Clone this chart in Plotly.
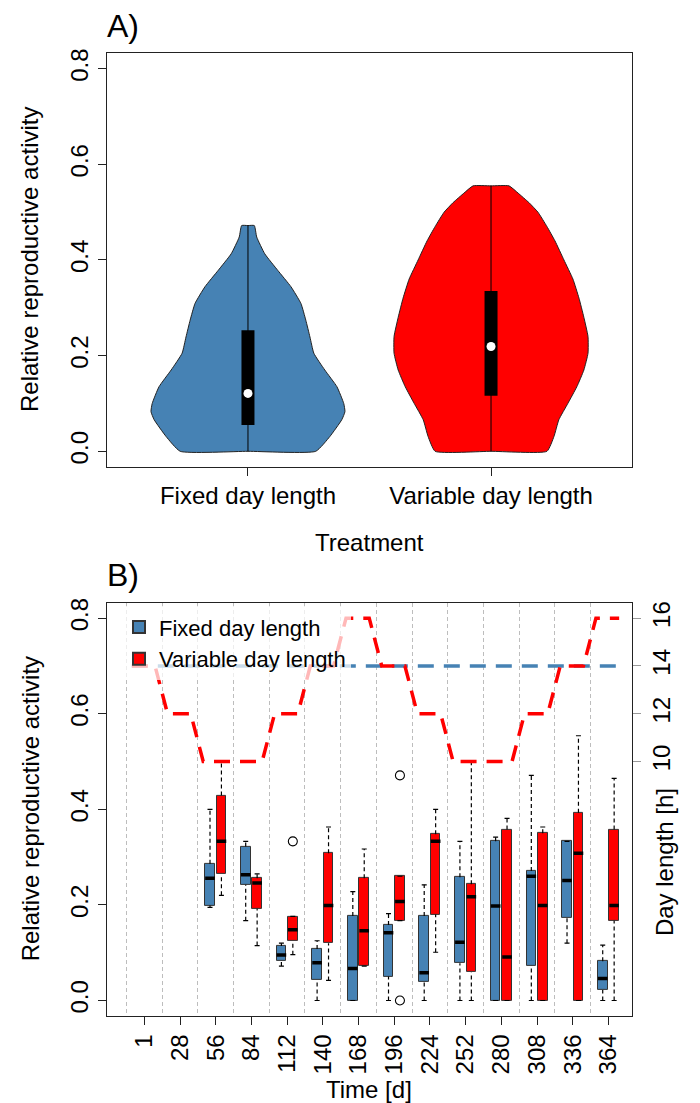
import plotly.graph_objects as go

W, H = 700, 1103
FONT = "Liberation Sans, Arial, sans-serif"

# ---------------- Panel A data ----------------
treatments = ["Fixed day length", "Variable day length"]
fixed_violin_y = [0.0, 0.031, 0.066, 0.083, 0.100, 0.135, 0.170, 0.205, 0.239, 0.274,
                  0.309, 0.344, 0.378, 0.413, 0.448, 0.472]
fixed_violin_hw = [0.279, 0.337, 0.386, 0.399, 0.394, 0.366, 0.316, 0.271, 0.255, 0.238,
                   0.218, 0.177, 0.123, 0.069, 0.036, 0.026]
var_violin_y = [0.0, 0.031, 0.066, 0.10, 0.135, 0.17, 0.205, 0.24, 0.28, 0.32, 0.36,
                0.40, 0.44, 0.47, 0.50, 0.52, 0.54, 0.555]
var_violin_hw = [0.230, 0.259, 0.279, 0.316, 0.353, 0.382, 0.399, 0.399, 0.382, 0.362,
                 0.337, 0.300, 0.263, 0.230, 0.193, 0.156, 0.111, 0.074]
violin_q1 = [0.055, 0.116]
violin_med = [0.121, 0.219]
violin_q3 = [0.253, 0.335]
violin_min = [0.0, 0.0]
violin_max = [0.472, 0.555]

# ---------------- Panel B data ----------------
time_labels = ["1", "28", "56", "84", "112", "140", "168", "196", "224", "252",
               "280", "308", "336", "364"]
fixed_lo = [None, None, 0.195, 0.167, 0.072, 0.0, 0.0, 0.0, 0.0, 0.0, 0.0, 0.0, 0.120, 0.0]
fixed_q1 = [None, None, 0.199, 0.242, 0.083, 0.043, 0.0, 0.050, 0.038, 0.078, 0.0, 0.072, 0.172, 0.022]
fixed_med = [None, None, 0.256, 0.263, 0.095, 0.079, 0.067, 0.142, 0.058, 0.122, 0.198, 0.260, 0.251, 0.046]
fixed_q3 = [None, None, 0.286, 0.322, 0.114, 0.108, 0.177, 0.158, 0.177, 0.258, 0.333, 0.271, 0.333, 0.082]
fixed_hi = [None, None, 0.400, 0.333, 0.120, 0.125, 0.228, 0.182, 0.242, 0.333, 0.342, 0.471, 0.333, 0.116]

var_lo = [None, None, 0.220, 0.115, 0.096, 0.042, 0.072, 0.167, 0.101, 0.0, 0.0, 0.0, 0.0, 0.0]
var_q1 = [None, None, 0.264, 0.192, 0.124, 0.120, 0.072, 0.167, 0.180, 0.059, 0.0, 0.0, 0.0, 0.167]
var_med = [None, None, 0.333, 0.246, 0.148, 0.199, 0.146, 0.207, 0.333, 0.217, 0.091, 0.199, 0.308, 0.199]
var_q3 = [None, None, 0.429, 0.256, 0.176, 0.308, 0.256, 0.260, 0.348, 0.243, 0.358, 0.350, 0.393, 0.358]
var_hi = [None, None, 0.500, 0.265, 0.176, 0.363, 0.317, 0.260, 0.400, 0.500, 0.381, 0.363, 0.554, 0.465]

var_outlier_time = ["112", "196", "196"]
var_outlier_val = [0.333, 0.471, 0.0]

fixed_daylength = [14] * 14
var_daylength = [14, 12, 10, 10, 12, 14, 16, 14, 12, 10, 10, 12, 14, 16]

BLUE = "#4682B4"
RED = "#FF0000"

# ---------------- layout geometry (pixels) ----------------
PL, PR = 107, 632
A_TOP, A_BOT = 48.6, 463.7
B_TOP, B_BOT = 600.6, 1015.4


def px(x):
    return x / W


def py(y):
    return 1 - y / H


fig = go.Figure()

# ---------------- Panel A: violins ----------------
vdata = [(fixed_violin_y, fixed_violin_hw, BLUE), (var_violin_y, var_violin_hw, RED)]
for k, (vy, vhw, col) in enumerate(vdata):
    c = k + 1
    xs = [c] + [c - h for h in vhw] + [c] + [c + h for h in reversed(vhw)] + [c]
    ys = [vy[0]] + list(vy) + [vy[-1]] + list(reversed(vy)) + [vy[0]]
    fig.add_trace(go.Scatter(x=xs, y=ys, mode="lines", fill="toself", fillcolor=col,
                             line=dict(color="#222", width=1, shape="spline", smoothing=0.45),
                             xaxis="x", yaxis="y", showlegend=False, hoverinfo="skip"))
# whisker line
wx, wy = [], []
for k in range(2):
    wx += [k + 1, k + 1, None]
    wy += [violin_min[k], violin_max[k], None]
fig.add_trace(go.Scatter(x=wx, y=wy, mode="lines", line=dict(color="black", width=1),
                         xaxis="x", yaxis="y", showlegend=False, hoverinfo="skip"))
# box (thick line from q1 to q3)
bxs, bys = [], []
for k in range(2):
    bxs += [k + 1, k + 1, None]
    bys += [violin_q1[k], violin_q3[k], None]
fig.add_trace(go.Scatter(x=bxs, y=bys, mode="lines", line=dict(color="black", width=13),
                         xaxis="x", yaxis="y", showlegend=False, hoverinfo="skip"))
# median dot
fig.add_trace(go.Scatter(x=[1, 2], y=violin_med, mode="markers",
                         marker=dict(color="white", size=9, line=dict(width=0)),
                         xaxis="x", yaxis="y", showlegend=False, hoverinfo="skip"))

# ---------------- Panel B: boxplots ----------------
OFF = 0.16
BW = 0.27
CAP = 0.07


def add_boxes(lo, q1, med, q3, hi, offset, col, name):
    xs = [i + offset for i in range(len(time_labels))]
    heights = [None if a is None else b - a for a, b in zip(q1, q3)]
    wx, wy, cx, cy, mx, my = [], [], [], [], [], []
    for x, l, a, m, b, h in zip(xs, lo, q1, med, q3, hi):
        if a is None:
            continue
        if h > b:
            wx += [x, x, None]
            wy += [b, h, None]
        if l < a:
            wx += [x, x, None]
            wy += [l, a, None]
        cx += [x - CAP, x + CAP, None, x - CAP, x + CAP, None]
        cy += [h, h, None, l, l, None]
        mx += [x - BW / 2, x + BW / 2, None]
        my += [m, m, None]
    fig.add_trace(go.Scatter(x=wx, y=wy, mode="lines",
                             line=dict(color="black", width=1.2, dash="4px,3px"),
                             xaxis="x2", yaxis="y2", showlegend=False, hoverinfo="skip"))
    fig.add_trace(go.Scatter(x=cx, y=cy, mode="lines", line=dict(color="black", width=1.2),
                             xaxis="x2", yaxis="y2", showlegend=False, hoverinfo="skip"))
    fig.add_trace(go.Bar(x=xs, base=q1, y=heights, width=BW, name=name,
                         marker=dict(color=col, line=dict(color="#333", width=1)),
                         xaxis="x2", yaxis="y2", showlegend=True, hoverinfo="skip"))
    fig.add_trace(go.Scatter(x=mx, y=my, mode="lines", line=dict(color="black", width=3.5),
                             xaxis="x2", yaxis="y2", showlegend=False, hoverinfo="skip"))


add_boxes(fixed_lo, fixed_q1, fixed_med, fixed_q3, fixed_hi, -OFF, BLUE, "Fixed day length")
add_boxes(var_lo, var_q1, var_med, var_q3, var_hi, OFF, RED, "Variable day length")

fig.add_trace(go.Scatter(x=[time_labels.index(t) + OFF for t in var_outlier_time], y=var_outlier_val,
                         mode="markers",
                         marker=dict(symbol="circle-open", size=9, color="black", line=dict(width=1.1)),
                         xaxis="x2", yaxis="y2", showlegend=False, hoverinfo="skip"))


def step_line(vals):
    xs, ys = [], []
    for i, v in enumerate(vals):
        xs += [i - 0.35, i + 0.30]
        ys += [v, v]
    return xs, ys


bx, byy = step_line(fixed_daylength)
fig.add_trace(go.Scatter(x=bx, y=byy, mode="lines", line=dict(color=BLUE, width=3.5, dash="16px,10px"),
                         xaxis="x2", yaxis="y3", showlegend=False, hoverinfo="skip"))
rx, ry = step_line(var_daylength)
fig.add_trace(go.Scatter(x=rx, y=ry, mode="lines", line=dict(color=RED, width=3.5, dash="16px,10px"),
                         xaxis="x2", yaxis="y3", showlegend=False, hoverinfo="skip"))

# ---------------- layout ----------------
tickfont = dict(family=FONT, size=24, color="black")
common_axis = dict(showline=True, linecolor="#222", linewidth=1, mirror=True, ticks="outside",
                   ticklen=8, tickcolor="#222", showgrid=False, zeroline=False, tickfont=tickfont)

fig.update_layout(
    width=W, height=H, margin=dict(l=0, r=0, t=0, b=0),
    paper_bgcolor="white", plot_bgcolor="white",
    barmode="overlay", bargap=0,
    font=dict(family=FONT, color="black"),
    xaxis=dict(domain=[px(PL), px(PR)], range=[0.42, 2.58], anchor="y",
               tickvals=[1, 2], ticktext=treatments, **common_axis),
    yaxis=dict(domain=[py(A_BOT), py(A_TOP)], range=[-0.032, 0.832], anchor="x",
               tickvals=[0, 0.2, 0.4, 0.6, 0.8], ticktext=["0.0", "0.2", "0.4", "0.6", "0.8"],
               tickangle=-90, **common_axis),
    xaxis2=dict(domain=[px(PL), px(PR)], range=[-1.045, 13.66], anchor="y2",
                tickvals=list(range(len(time_labels))), ticktext=time_labels, tickangle=-90,
                minor=dict(tickvals=[i - 0.5 for i in range(len(time_labels))], showgrid=True,
                           gridcolor="#bdbdbd", gridwidth=1, griddash="4px,3px", ticks=""),
                **common_axis),
    yaxis2=dict(domain=[py(B_BOT), py(B_TOP)], range=[-0.032, 0.832], anchor="x2",
                tickvals=[0, 0.2, 0.4, 0.6, 0.8], ticktext=["0.0", "0.2", "0.4", "0.6", "0.8"],
                tickangle=-90, **common_axis),
    yaxis3=dict(overlaying="y2", side="right", anchor="x2", range=[-0.64, 16.64],
                tickvals=[10, 12, 14, 16], tickangle=-90, ticks="outside", ticklen=8,
                tickcolor="#999", showgrid=False, zeroline=False, showline=False,
                tickfont=tickfont),
    legend=dict(x=px(119), y=py(604), xanchor="left", yanchor="top",
                bgcolor="rgba(255,255,255,0.72)", borderwidth=0,
                font=dict(family=FONT, size=22, color="black"), tracegroupgap=0,
                itemsizing="constant"),
    showlegend=True,
)

ann = [
    dict(text="A)", x=px(105), y=py(21), xanchor="left", yanchor="middle", font=dict(size=32)),
    dict(text="B)", x=px(105), y=py(573), xanchor="left", yanchor="middle", font=dict(size=32)),
    dict(text="Treatment", x=px((PL + PR) / 2), y=py(540), xanchor="center", yanchor="middle",
         font=dict(size=24)),
    dict(text="Time [d]", x=px((PL + PR) / 2), y=py(1089), xanchor="center", yanchor="middle",
         font=dict(size=24)),
    dict(text="Relative reproductive activity", x=px(30), y=py((A_TOP + A_BOT) / 2), textangle=-90,
         xanchor="center", yanchor="middle", font=dict(size=24)),
    dict(text="Relative reproductive activity", x=px(30), y=py((B_TOP + B_BOT) / 2), textangle=-90,
         xanchor="center", yanchor="middle", font=dict(size=24)),
    dict(text="Day length [h]", x=px(664), y=py(861), textangle=-90,
         xanchor="center", yanchor="middle", font=dict(size=24)),
]
for a in ann:
    a.update(xref="paper", yref="paper", showarrow=False)
    a["font"] = dict(family=FONT, color="black", **a["font"])
fig.update_layout(annotations=ann)

fig.write_html("out.html")
